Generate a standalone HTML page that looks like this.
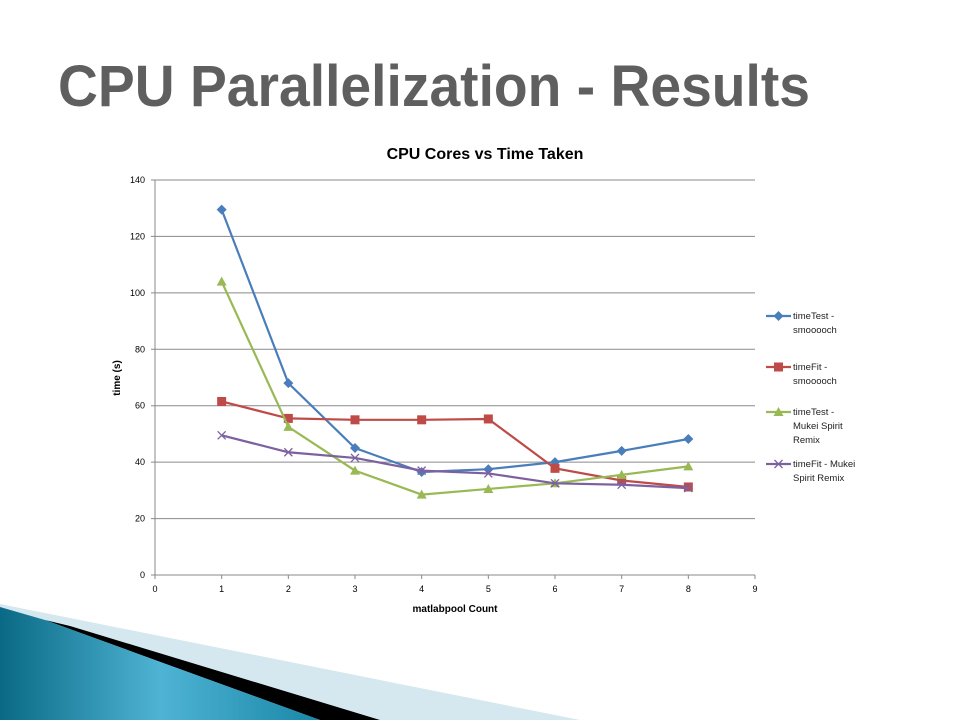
<!DOCTYPE html>
<html><head><meta charset="utf-8"><style>
body{margin:0;width:960px;height:720px;background:#fff;overflow:hidden;font-family:"Liberation Sans",sans-serif}
</style></head><body>
<svg width="960" height="720" xmlns="http://www.w3.org/2000/svg">
<defs><linearGradient id="g1" x1="0" y1="0" x2="1" y2="0"><stop offset="0" stop-color="#0a6a85"/><stop offset="0.5" stop-color="#4fb3d4"/><stop offset="1" stop-color="#1a87a8"/></linearGradient></defs>
<g>
<polygon points="0,604 580,720 0,720" fill="#d6e8ef"/>
<polygon points="45,620 70,626 380,720 320,720" fill="#000"/>
<polygon points="0,607 45,620 320,720 0,720" fill="url(#g1)"/>
</g>
<text x="58" y="106" font-size="58" font-weight="bold" fill="#444" textLength="752" lengthAdjust="spacingAndGlyphs" opacity="0.85">CPU Parallelization - Results</text>
<text x="485" y="159" font-size="16" font-weight="bold" text-anchor="middle" fill="#000">CPU Cores vs Time Taken</text>
<g id="plot"></g>
<text x="455" y="612" font-size="10" font-weight="bold" text-anchor="middle">matlabpool  Count</text>
<text x="0" y="0" font-size="10" font-weight="bold" text-anchor="middle" transform="translate(120,378) rotate(-90)">time (s)</text>
<g id="legend"></g>
</svg>
<script>
const categories=[1,2,3,4,5,6,7,8];
const seriesNames=[["timeTest -","smooooch"],["timeFit -","smooooch"],["timeTest -","Mukei Spirit","Remix"],["timeFit - Mukei","Spirit Remix"]];
const timeTestSmooch=[129.5,68,45,36.5,37.5,40,44,48.2];
const timeFitSmooch=[61.5,55.5,55,55,55.3,37.8,33.5,31.2];
const timeTestMukei=[104,52.5,37,28.5,30.5,32.5,35.5,38.5];
const timeFitMukei=[49.5,43.5,41.5,37,36,32.5,32,30.8];
const yTicks=[0,20,40,60,80,100,120,140];
const xTicks=[0,1,2,3,4,5,6,7,8,9];
const NS="http://www.w3.org/2000/svg";
const X0=155,X1=755,Y0=575,Y1=180;
const xs=v=>X0+(v-0)/9*(X1-X0);
const ys=v=>Y0-(v/140)*(Y0-Y1);
const plot=document.getElementById('plot');
function mk(t,a,p){const e=document.createElementNS(NS,t);for(const k in a)e.setAttribute(k,a[k]);(p||plot).appendChild(e);return e;}
yTicks.forEach(t=>{
 const l=mk('line',{x1:X0-4,x2:X1,y1:ys(t),y2:ys(t),stroke:t===0?'#888':'#8a8a8a','stroke-width':1});
 
 
 const tx=mk('text',{x:X0-10,y:ys(t)+3,'font-size':9,'text-anchor':'end'});tx.textContent=t;
 
 
});
const ax=mk('line',{x1:X0,x2:X0,y1:Y1,y2:Y0,stroke:'#888'});


xTicks.forEach(t=>{
 mk('line',{x1:xs(t),x2:xs(t),y1:Y0,y2:Y0+4,stroke:'#888'});
 const tx=mk('text',{x:xs(t),y:Y0+17,'font-size':9,'text-anchor':'middle'});tx.textContent=t;
 
 
});
const colors=['#4a7ebb','#be4b48','#98b954','#7d60a0'];
const data=[timeTestSmooch,timeFitSmooch,timeTestMukei,timeFitMukei];
const markers=['diamond','square','triangle','x'];
function marker(m,x,y,c,p){
 let e;
 if(m==='diamond')e=mk('polygon',{points:`${x},${y-5} ${x+5},${y} ${x},${y+5} ${x-5},${y}`,fill:c},p);
 else if(m==='square')e=mk('rect',{x:x-4.5,y:y-4.5,width:9,height:9,fill:c},p);
 else if(m==='triangle')e=mk('polygon',{points:`${x},${y-5} ${x+5},${y+4} ${x-5},${y+4}`,fill:c},p);
 else e=mk('path',{d:`M${x-4},${y-4}L${x+4},${y+4}M${x-4},${y+4}L${x+4},${y-4}`,stroke:c,'stroke-width':1.3,fill:'none'},p);
 return e;
}
data.forEach((d,i)=>{
 const g=mk('g',{});
 
 
 mk('polyline',{points:d.map((v,j)=>xs(categories[j])+','+ys(v)).join(' '),fill:'none',stroke:colors[i],'stroke-width':2.2},g);
 d.forEach((v,j)=>{const m=marker(markers[i],xs(categories[j]),ys(v),colors[i],g);
  
  });
});
const leg=document.getElementById('legend');
const legY=[316,367,412,464];
seriesNames.forEach((n,i)=>{
 const g=mk('g',{},leg);
 
 
 const y=legY[i];
 mk('line',{x1:766,x2:791,y1:y,y2:y,stroke:colors[i],'stroke-width':2.2},g);
 marker(markers[i],778.5,y,colors[i],g);
 n.forEach((s,k)=>{const t=mk('text',{x:793,y:y+3+k*14,'font-size':9.5,fill:'#222'},g);t.textContent=s;});
});
</script>
</body></html>
